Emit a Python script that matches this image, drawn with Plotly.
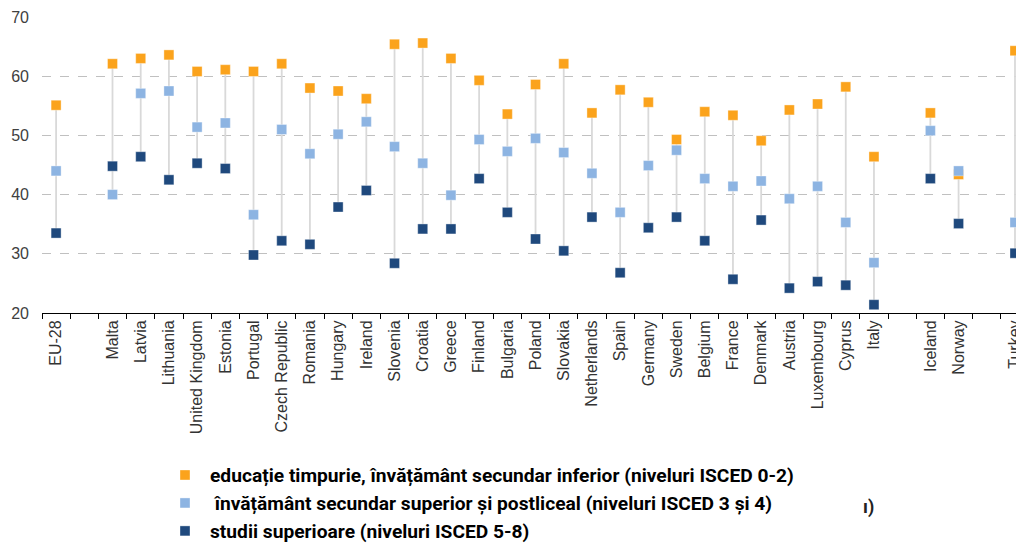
import plotly.graph_objects as go

categories = ["EU-28", " ", "Malta", "Latvia", "Lithuania", "United Kingdom", "Estonia", "Portugal",
              "Czech Republic", "Romania", "Hungary", "Ireland", "Slovenia", "Croatia", "Greece",
              "Finland", "Bulgaria", "Poland", "Slovakia", "Netherlands", "Spain", "Germany",
              "Sweden", "Belgium", "France", "Denmark", "Austria", "Luxembourg", "Cyprus", "Italy",
              "  ", "Iceland", "Norway", "   ", "Turkey"]

low_edu = [55.1, None, 62.1, 63.0, 63.6, 60.8, 61.1, 60.8, 62.1, 58.0, 57.5, 56.2, 65.4, 65.6, 63.0,
           59.3, 53.6, 58.6, 62.1, 53.8, 57.7, 55.6, 49.3, 54.0, 53.4, 49.1, 54.3, 55.3, 58.2, 46.4,
           None, 53.8, 43.4, None, 64.3]
mid_edu = [44.0, None, 40.0, 57.1, 57.5, 51.4, 52.1, 36.6, 51.0, 46.9, 50.2, 52.3, 48.1, 45.3, 39.9,
           49.3, 47.3, 49.5, 47.1, 43.6, 37.0, 44.9, 47.5, 42.7, 41.4, 42.3, 39.3, 41.4, 35.3, 28.5,
           None, 50.8, 44.0, None, 35.3]
high_edu = [33.5, None, 44.8, 46.4, 42.5, 45.3, 44.4, 29.8, 32.2, 31.6, 37.9, 40.7, 28.4, 34.2, 34.2,
            42.7, 37.0, 32.5, 30.5, 36.2, 26.8, 34.4, 36.2, 32.2, 25.7, 35.7, 24.2, 25.3, 24.7, 21.4,
            None, 42.7, 35.1, None, 30.1]

series_names = [
    "educație timpurie, învățământ secundar inferior (niveluri ISCED 0-2)",
    " învățământ secundar superior și postliceal (niveluri ISCED 3 și 4)",
    "studii superioare (niveluri ISCED 5-8)",
]
series_colors = ["#FBA31C", "#8DB4E2", "#1F497D"]

# range lines (min to max per category)
lx, ly = [], []
for c, a, b, d in zip(categories, low_edu, mid_edu, high_edu):
    vals = [v for v in (a, b, d) if v is not None]
    if vals:
        lx += [c, c, None]
        ly += [min(vals), max(vals), None]

fig = go.Figure()
fig.add_trace(go.Scatter(x=lx, y=ly, mode="lines", line=dict(color="#D9D9D9", width=1.8),
                         showlegend=False, hoverinfo="skip"))
for name, vals, col in zip(series_names, [low_edu, mid_edu, high_edu], series_colors):
    fig.add_trace(go.Scatter(x=categories, y=vals, mode="markers", name=name, cliponaxis=False,
                             marker=dict(symbol="square", size=10, color=col,
                                         line=dict(color="rgba(255,255,255,0.6)", width=0.6))))

# page body has an 8px margin; figure coordinates = screen coordinates - 8
OFF = 8
W, H = 1024 - OFF, 544 - OFF
L, T = 42 - OFF, 17 - OFF
PB = 313 - OFF          # plot bottom in figure px
B = H - PB
PW, PH = W - L, PB - T

fig.update_layout(
    width=W, height=H,
    margin=dict(l=L, r=0, t=T, b=B, autoexpand=False),
    plot_bgcolor="white", paper_bgcolor="white",
    font=dict(family="Liberation Sans, Arial, sans-serif", size=16, color="#404040"),
    showlegend=True,
    legend=dict(x=(152 - L) / PW, y=(PB - 448) / PH, xanchor="left", yanchor="top",
                orientation="v",
                font=dict(family="Roboto, sans-serif", size=19.2, color="#000000", weight="bold"),
                itemwidth=40, tracegroupgap=0, bgcolor="rgba(0,0,0,0)"),
)
fig.update_xaxes(type="category", categoryorder="array", categoryarray=categories, automargin=False,
                 range=[-0.5, 34.32], tickangle=-90, tickson="boundaries", ticks="outside",
                 ticklen=5, tickcolor="#000000", showline=True, linecolor="#000000", linewidth=1,
                 showgrid=False, tickfont=dict(size=16, color="#333333"))
fig.update_yaxes(range=[20, 70], tickvals=[20, 30, 40, 50, 60, 70], showgrid=True, automargin=False,
                 gridcolor="#C0C0C0", griddash="dash", gridwidth=1, zeroline=False, showline=False,
                 ticks="", ticklabelstandoff=12, tickfont=dict(size=16, color="#404040"))

fig.add_annotation(x=(868 - OFF - L) / PW, y=(PB - (507 - OFF)) / PH, xref="paper", yref="paper",
                   text="ı)", showarrow=False, xanchor="center", yanchor="middle",
                   font=dict(family="Roboto, sans-serif", size=18, color="#222222", weight="bold"))

fig.write_html("out.html")
